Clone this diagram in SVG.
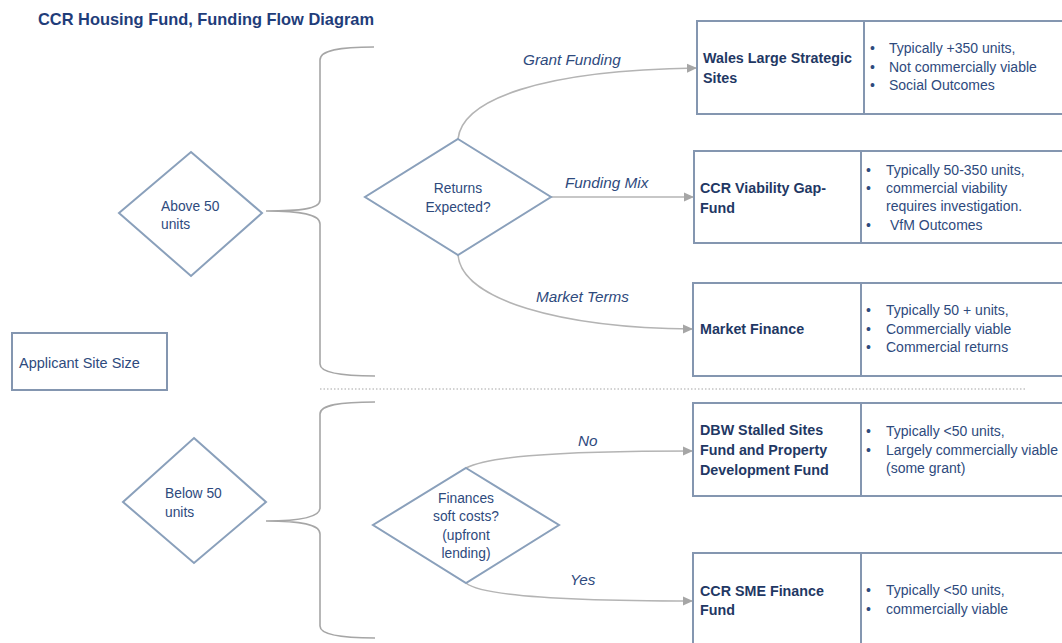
<svg xmlns="http://www.w3.org/2000/svg" width="1062" height="643" viewBox="0 0 1062 643">
<defs>
<style>
text{font-family:"Liberation Sans",Arial,sans-serif;}
.title{font-size:16.4px;font-weight:bold;fill:#1f3d7a;}
.bold{font-size:14.3px;font-weight:bold;fill:#1f3864;}
.reg{font-size:14px;fill:#2e4a7d;}
.dia{font-size:13.8px;fill:#2e4a7d;}
.lbl{font-size:15.3px;font-style:italic;fill:#2e4a7d;}
.box{fill:#fff;stroke:#8496b0;stroke-width:2;}
.diamond{fill:#fff;stroke:#8aa0bb;stroke-width:2;}
.conn{fill:none;stroke:#b4b4b4;stroke-width:1.6;marker-end:url(#arr);}
.brace{fill:none;stroke:#a6a6a6;stroke-width:1.6;}
.sep{stroke:#a6a6a6;stroke-width:1.2;stroke-dasharray:1.5 2;}
</style>
<marker id="arr" markerUnits="userSpaceOnUse" markerWidth="10" markerHeight="10" viewBox="0 0 10 10" refX="10" refY="5" orient="auto">
<path d="M0,0.5 L10,5 L0,9.5 Z" fill="#a6a6a6"/>
</marker>
</defs>
<rect width="1062" height="643" fill="#fff"/>
<text class="title" x="38" y="25">CCR Housing Fund, Funding Flow Diagram</text>

<g id="connectors">
<path class="brace" d="M374,47 C340,47 320,50 320,60 L320,200 C320,209 300,211 266,211 C300,211 320,214 320,224 L320,364 C320,372 340,376 375,376"/>
<path class="brace" d="M375,402 C340,402 320,405 320,414 L320,508 C320,517 300,521 266,521 C300,521 320,524 320,534 L320,626 C320,634 340,638 375,638"/>
<line class="sep" x1="320" y1="389" x2="1027" y2="389"/>
<path class="conn" d="M458,139 C462,100 540,70 697,68"/>
<path class="conn" d="M551,197 L694,197"/>
<path class="conn" d="M458,255 C462,300 560,328 693,329"/>
<path class="conn" d="M466,468 C485,458 540,451 693,451"/>
<path class="conn" d="M466,583 C480,595 560,601 693,601"/>
<text class="lbl" x="523" y="65">Grant Funding</text>
<text class="lbl" x="565" y="188">Funding Mix</text>
<text class="lbl" x="536" y="302">Market Terms</text>
<text class="lbl" x="578" y="446">No</text>
<text class="lbl" x="570" y="585">Yes</text>
</g>

<g id="applicant">
<rect class="box" x="12" y="333" width="155" height="57"/>
<text class="reg" x="19" y="368" style="font-size:14.5px">Applicant Site Size</text>
</g>

<g id="above50">
<polygon class="diamond" points="191,152 262,213 191,276 119,213"/>
<text class="dia" x="161" y="211">Above 50</text>
<text class="dia" x="161" y="229">units</text>
</g>

<g id="below50">
<polygon class="diamond" points="194,438 266,502 194,563 123,502"/>
<text class="dia" x="165" y="498">Below 50</text>
<text class="dia" x="165" y="517">units</text>
</g>

<g id="returns">
<polygon class="diamond" points="458,139 551,197 458,255 365,197"/>
<text class="dia" x="458" y="193" text-anchor="middle">Returns</text>
<text class="dia" x="458" y="212" text-anchor="middle">Expected?</text>
</g>

<g id="finances">
<polygon class="diamond" points="466,468 559,525 466,583 373,525"/>
<text class="dia" x="466" y="503" text-anchor="middle">Finances</text>
<text class="dia" x="466" y="521" text-anchor="middle">soft costs?</text>
<text class="dia" x="466" y="540" text-anchor="middle">(upfront</text>
<text class="dia" x="466" y="558" text-anchor="middle">lending)</text>
</g>

<g id="wales">
<rect class="box" x="697" y="21" width="380" height="93"/>
<line class="box" x1="864" y1="21" x2="864" y2="114"/>
<text class="bold" x="703" y="63">Wales Large Strategic</text>
<text class="bold" x="703" y="83">Sites</text>
<text class="reg" x="870" y="53">•</text><text class="reg" x="889" y="53">Typically +350 units,</text>
<text class="reg" x="870" y="72">•</text><text class="reg" x="889" y="72">Not commercially viable</text>
<text class="reg" x="870" y="90">•</text><text class="reg" x="889" y="90">Social Outcomes</text>
</g>

<g id="viability">
<rect class="box" x="694" y="151" width="380" height="92"/>
<line class="box" x1="861" y1="151" x2="861" y2="243"/>
<text class="bold" x="700" y="193">CCR Viability Gap-</text>
<text class="bold" x="700" y="213">Fund</text>
<text class="reg" x="866" y="175">•</text><text class="reg" x="886" y="175">Typically 50-350 units,</text>
<text class="reg" x="866" y="193">•</text><text class="reg" x="886" y="193">commercial viability</text>
<text class="reg" x="886" y="211">requires investigation.</text>
<text class="reg" x="866" y="230">•</text><text class="reg" x="890" y="230">VfM Outcomes</text>
</g>

<g id="market">
<rect class="box" x="693" y="283" width="380" height="93"/>
<line class="box" x1="861" y1="283" x2="861" y2="376"/>
<text class="bold" x="700" y="334">Market Finance</text>
<text class="reg" x="866" y="315">•</text><text class="reg" x="886" y="315">Typically 50 + units,</text>
<text class="reg" x="866" y="334">•</text><text class="reg" x="886" y="334">Commercially viable</text>
<text class="reg" x="866" y="352">•</text><text class="reg" x="886" y="352">Commercial returns</text>
</g>

<g id="dbw">
<rect class="box" x="693" y="403" width="380" height="93"/>
<line class="box" x1="861" y1="403" x2="861" y2="496"/>
<text class="bold" x="700" y="435">DBW Stalled Sites</text>
<text class="bold" x="700" y="455">Fund and Property</text>
<text class="bold" x="700" y="475">Development Fund</text>
<text class="reg" x="866" y="436">•</text><text class="reg" x="886" y="436">Typically &lt;50 units,</text>
<text class="reg" x="866" y="455">•</text><text class="reg" x="886" y="455">Largely commercially viable</text>
<text class="reg" x="886" y="473">(some grant)</text>
</g>

<g id="sme">
<rect class="box" x="693" y="553" width="380" height="100"/>
<line class="box" x1="861" y1="553" x2="861" y2="653"/>
<text class="bold" x="700" y="596">CCR SME Finance</text>
<text class="bold" x="700" y="615">Fund</text>
<text class="reg" x="866" y="595">•</text><text class="reg" x="886" y="595">Typically &lt;50 units,</text>
<text class="reg" x="866" y="614">•</text><text class="reg" x="886" y="614">commercially viable</text>
</g>
</svg>
